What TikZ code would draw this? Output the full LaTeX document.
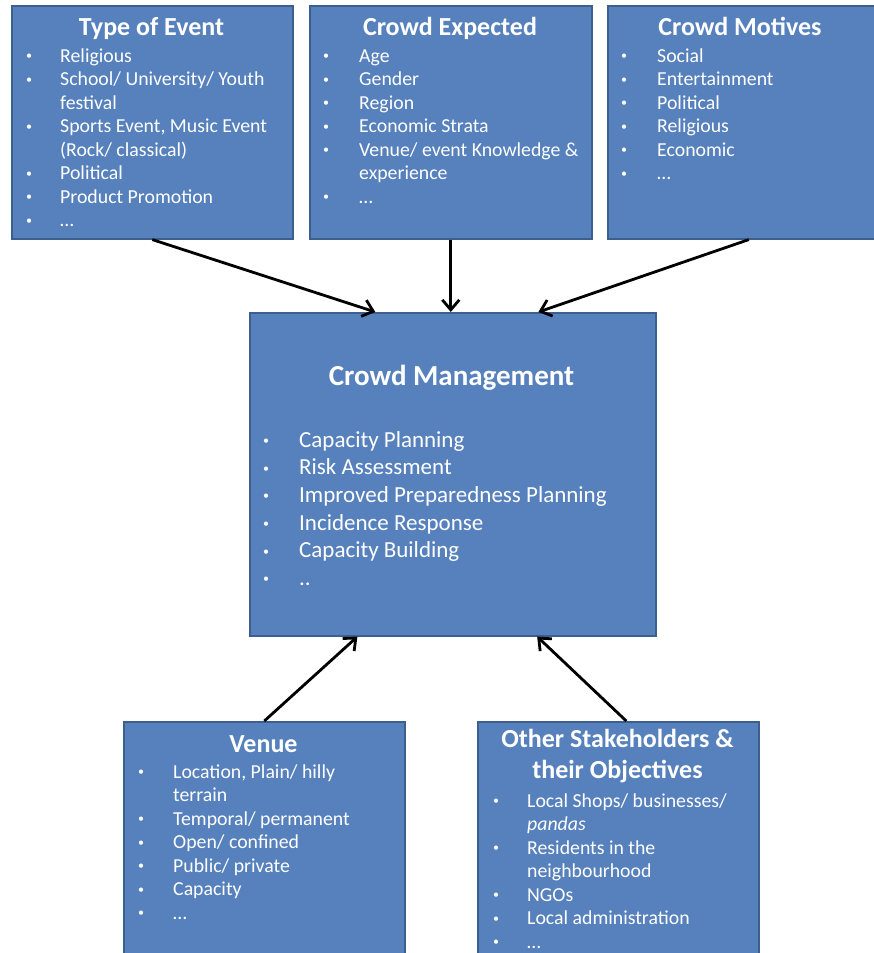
\documentclass[tikz,border=0pt]{standalone}
\usepackage{fontspec}
\setmainfont{Carlito}
\usetikzlibrary{arrows.meta,calc,positioning}
\definecolor{boxblue}{RGB}{86,129,189}
\definecolor{boxedge}{RGB}{60,95,142}
\tikzset{
%Define standard arrow tip
>={Straight Barb[length=10pt,width=17pt]},
%Define styles for boxes, headings and bullet lists
topic/.style={draw=boxedge, line width=1.6pt, fill=boxblue, anchor=north west, inner sep=0pt},
heading/.style={text=white, font=\bfseries\fontsize{26}{30}\selectfont, anchor=base, inner sep=0pt},
bigheading/.style={heading, font=\bfseries\fontsize{29}{34}\selectfont},
points/.style={text=white, font=\fontsize{19.8}{23.5}\selectfont, anchor=north west, inner sep=0pt, align=left},
bigpoints/.style={points, font=\fontsize{23}{27.7}\selectfont},
link/.style={->, line width=2.8pt},
}
\newcommand\bul{\raisebox{0.12em}{\fontsize{12}{12}\selectfont\textbullet}}
\newcommand\bullist[2][34pt]{\begin{tabular}{@{}p{#1}@{}l@{}}#2\end{tabular}}

\begin{document}
\begin{tikzpicture}[x=1pt,y=-1pt]
    \useasboundingbox (0,0) rectangle (873,953);
    %Draw the boxes
    \node[topic, minimum width=281pt, minimum height=233pt] (event) at (11,5) {};
    \node[topic, minimum width=282pt, minimum height=233pt] (crowd) at (309,5) {};
    \node[topic, minimum width=282pt, minimum height=233pt] (motive) at (607,5) {};
    \node[topic, minimum width=406pt, minimum height=323pt] (mgmt) at (249,312) {};
    \node[topic, minimum width=281pt, minimum height=260pt] (venue) at (123,721) {};
    \node[topic, minimum width=281pt, minimum height=260pt] (other) at (477,721) {};

    %Type of event
    \node[heading] (eventhead) at (151.5,35) {Type of Event};
    \node[points] (eventlist) at (26,45.5) {\bullist{
      \bul & Religious\\
      \bul & School/ University/ Youth\\
           & festival\\
      \bul & Sports Event, Music Event\\
           & (Rock/ classical)\\
      \bul & Political\\
      \bul & Product Promotion\\
      \bul & \dots}};

    %Crowd expected
    \node[heading] (crowdhead) at (450,35) {Crowd Expected};
    \node[points] (crowdlist) at (323,45.5) {\bullist[36pt]{
      \bul & Age\\
      \bul & Gender\\
      \bul & Region\\
      \bul & Economic Strata\\
      \bul & Venue/ event Knowledge \&\\
           & experience\\
      \bul & \dots}};

    %Crowd motives
    \node[heading] (motivehead) at (740,35) {Crowd Motives};
    \node[points] (motivelist) at (621,45.5) {\bullist[36pt]{
      \bul & Social\\
      \bul & Entertainment\\
      \bul & Political\\
      \bul & Religious\\
      \bul & Economic\\
      \bul & \dots}};

    %Crowd management
    \node[bigheading] (mgmthead) at (451.5,385) {Crowd Management};
    \node[bigpoints] (mgmtlist) at (263,427.6) {\bullist[36pt]{
      \bul & Capacity Planning\\
      \bul & Risk Assessment\\
      \bul & Improved Preparedness Planning\\
      \bul & Incidence Response\\
      \bul & Capacity Building\\
      \bul & ..}};

    %Venue
    \node[heading] (venuehead) at (263.5,752) {Venue};
    \node[points] (venuelist) at (138,761.5) {\bullist[35pt]{
      \bul & Location, Plain/ hilly\\
           & terrain\\
      \bul & Temporal/ permanent\\
      \bul & Open/ confined\\
      \bul & Public/ private\\
      \bul & Capacity\\
      \bul & \dots}};

    %Other stakeholders
    \node[heading] (otherhead) at (617.5,747) {Other Stakeholders \&};
    \node[heading] (otherheadb) at (617.5,778) {their Objectives};
    \node[points] (otherlist) at (493,790.5) {\bullist{
      \bul & Local Shops/ businesses/\\
           & \textit{pandas}\\
      \bul & Residents in the\\
           & neighbourhood\\
      \bul & NGOs\\
      \bul & Local administration\\
      \bul & \dots}};

    %Arrows into crowd management
    \draw[link] (event.south) -- ($(mgmt.north west)!0.31!(mgmt.north east)$);
    \draw[link] (crowd.south) -- (crowd.south |- mgmt.north);
    \draw[link] (motive.south) -- ($(mgmt.north west)!0.71!(mgmt.north east)$);
    \draw[link] (venue.north) -- ($(mgmt.south west)!0.266!(mgmt.south east)$);
    \draw[link] ($(other.north)+(8,0)$) -- ($(mgmt.south west)!0.707!(mgmt.south east)$);
\end{tikzpicture}
\end{document}
